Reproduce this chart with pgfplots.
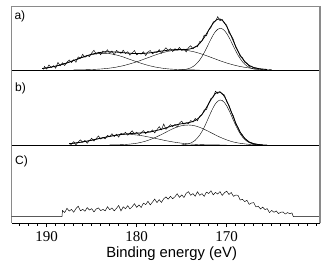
\documentclass[border=0pt]{standalone}
\usepackage{pgfplots}
\pgfplotsset{compat=1.18}
\usepackage{fontspec}
\setmainfont{Liberation Serif}
\newfontfamily\arial{Liberation Sans}
\definecolor{framegray}{HTML}{8A8A8A}
\begin{document}
\begin{tikzpicture}[x=1pt,y=1pt]
\useasboundingbox (0,0) rectangle (332,274);
\pgfplotsset{
 panel/.style={
  scale only axis, width=308.8pt, xmin=159.58, xmax=193.89, x dir=reverse,
  axis x line*=bottom, axis y line*=left,
  x axis line style={black, line width=1pt},
  y axis line style={framegray, line width=0.8pt},
  ytick=\empty, clip=false, anchor=south west,
 },
 dat/.style={black, line width=0.45pt},
 fit/.style={black, line width=0.8pt, smooth},
 comp/.style={black, line width=0.4pt, smooth},
}
% ---------------- panel a
\begin{axis}[panel, at={(11.7pt,204pt)}, height=64pt, ymin=0, ymax=64, xtick=\empty]
\addplot[comp] coordinates {(190.5,1.52)(190,2.12)(189.5,2.91)(189,3.87)(188.5,5.03)(188,6.36)(187.5,7.85)(187,9.47)(186.5,11.1)(186,12.7)(185.5,14.1)(185,15.3)(184.5,16.1)(184,16.6)(183.5,16.7)(183,16.3)(182.5,15.5)(182,14.4)(181.5,13.0)(181,11.4)(180.5,9.8)(180,8.2)(179.5,6.7)(179,5.3)(178.5,4.1)(178,3.1)(177.5,2.3)(177,1.6)(176.5,1.1)(176,0.8)(175,0.3)(174,0.1)(173,0)};
\addplot[comp] coordinates {(187,0.1)(186,0.22)(185,0.5)(184,1.0)(183.5,1.4)(183,1.9)(182.5,2.5)(182,3.4)(181.5,4.3)(181,5.5)(180.5,6.8)(180,8.2)(179.5,9.8)(179,11.5)(178.5,13.1)(178,14.8)(177.5,16.3)(177,17.6)(176.5,18.7)(176,19.5)(175.5,19.9)(175,20.0)(174.5,19.6)(174,18.9)(173.5,17.9)(173,16.6)(172.5,15.1)(172,13.5)(171.5,11.8)(171,10.1)(170.5,8.5)(170,7.0)(169.5,5.7)(169,4.5)(168.5,3.5)(168,2.7)(167.5,2.0)(167,1.5)(166.5,1.1)(166,0.8)(165.5,0.5)(165,0.4)};
\addplot[comp] coordinates {(175,0.3)(174.5,0.8)(174,2.2)(173.5,5.0)(173,10.0)(172.75,13.4)(172.5,17.4)(172.25,21.8)(172,26.4)(171.75,30.9)(171.5,35.1)(171.25,38.5)(171,40.7)(170.75,41.7)(170.5,41.2)(170.25,39.5)(170,36.5)(169.75,32.7)(169.5,28.3)(169.25,23.6)(169,19.1)(168.75,14.9)(168.5,11.3)(168.25,8.3)(168,5.8)(167.75,4.0)(167.5,2.6)(167.25,1.7)(167,1.0)(166.5,0.35)(166,0.1)};
\addplot[fit] coordinates {(190.5,1.5)(190,2.1)(189.5,2.9)(189,3.9)(188.5,5.0)(188,6.4)(187.5,7.9)(187,9.6)(186.5,11.2)(186,12.9)(185.5,14.4)(185,15.8)(184.5,16.8)(184,17.6)(183.5,18.1)(183,18.2)(182.5,18.0)(182,17.8)(181.5,17.3)(181,16.9)(180.5,16.6)(180,16.4)(179.5,16.5)(179,16.8)(178.5,17.2)(178,17.9)(177.5,18.6)(177,19.2)(176.5,19.8)(176,20.3)(175.5,20.4)(175,20.6)(174.5,20.6)(174,21.2)(173.5,22.9)(173.25,24.5)(173,26.6)(172.75,29.3)(172.5,32.5)(172.25,36.1)(172,39.9)(171.75,43.6)(171.5,46.9)(171.25,49.4)(171,50.8)(170.75,51.0)(170.5,49.7)(170.25,47.2)(170,43.5)(169.75,39.0)(169.5,34.0)(169.25,28.7)(169,23.6)(168.75,18.9)(168.5,14.8)(168.25,11.4)(168,8.5)(167.75,6.3)(167.5,4.6)(167.25,3.4)(167,2.5)(166.5,1.45)(166,0.9)(165.5,0.5)};
\addplot[dat] coordinates {(190.35,0.5)(190.25,3.6)(190,0.9)(189.75,5.1)(189.5,2.4)(189.25,4.3)(189,1.8)(188.75,7.6)(188.5,4.2)(188.25,7.2)(188,4.5)(187.75,7.6)(187.5,10.1)(187.25,7.4)(187,10.3)(186.75,7.8)(186.5,13.1)(186.25,11.8)(186,15.7)(185.75,12.6)(185.5,14.6)(185.25,13.4)(185,17.1)(184.75,19.7)(184.5,15.9)(184.25,17.8)(184,15.3)(183.75,19.0)(183.5,17.7)(183.25,20.2)(183,16.6)(182.75,18.9)(182.5,15.2)(182.25,19.6)(182,17.9)(181.75,16.6)(181.5,19.8)(181.25,16.5)(181,18.3)(180.75,14.8)(180.5,17.1)(180.25,19.4)(180,15.1)(179.75,16.8)(179.5,15.8)(179.25,18.3)(179,14.4)(178.75,18.0)(178.5,19.5)(178.25,16.1)(178,17.9)(177.75,17.4)(177.5,20.4)(177.25,16.7)(177,19.8)(176.75,22.2)(176.5,19.6)(176.25,21.3)(176,18.5)(175.75,21.3)(175.5,19.9)(175.25,22.6)(175,19.5)(174.75,21.0)(174.5,18.1)(174.25,22.4)(174,24.2)(173.75,21.2)(173.5,23.6)(173.25,23.1)(173,28.5)(172.75,29.0)(172.5,34.9)(172.25,34.2)(172,40.1)(171.75,42.4)(171.5,48.0)(171.25,48.8)(171,53.4)(170.75,49.3)(170.5,50.5)(170.25,46.8)(170,44.8)(169.75,36.9)(169.5,34.5)(169.25,30.4)(169,22.6)(168.75,19.2)(168.5,13.3)(168.25,12.4)(168,7.8)(167.75,6.9)(167.5,3.7)(167.25,3.8)(167,2.0)(166.75,2.2)(166.5,1.25)(166.25,0.9)(166,0.3)};
\draw[framegray, line width=0.8pt] (rel axis cs:0,1) -- (rel axis cs:1,1);
\draw[framegray, line width=2pt] (rel axis cs:1,0) -- (rel axis cs:1,1);
\end{axis}
% ---------------- panel b
\begin{axis}[panel, at={(11.7pt,129pt)}, height=75pt, ymin=0, ymax=75, xtick=\empty]
\addplot[comp] coordinates {(187.5,1.33)(187,1.8)(186.5,2.4)(186,3.1)(185.5,3.9)(185,4.8)(184.5,5.8)(184,6.8)(183.5,7.7)(183,8.6)(182.5,9.4)(182,10.0)(181.5,10.4)(181,10.5)(180.5,10.4)(180,10.0)(179.5,9.4)(179,8.6)(178.5,7.7)(178,6.8)(177.5,5.8)(177,4.8)(176.5,3.9)(176,3.1)(175.5,2.4)(175,1.8)(174.5,1.33)(174,0.96)(173.5,0.68)(173,0.46)(172.5,0.3)(172,0.2)(171,0.07)(170,0)};
\addplot[comp] coordinates {(183,0.07)(182.5,0.14)(182,0.25)(181.5,0.43)(181,0.72)(180.5,1.16)(180,1.8)(179.5,2.7)(179,3.9)(178.5,5.4)(178,7.3)(177.5,9.4)(177,11.6)(176.5,14.0)(176,16.2)(175.5,18.0)(175,19.3)(174.5,19.9)(174,19.9)(173.5,19.1)(173,17.65)(172.5,15.7)(172,13.5)(171.5,11.2)(171,8.9)(170.5,6.9)(170,5.1)(169.5,3.6)(169,2.5)(168.5,1.7)(168,1.1)(167.5,0.65)(167,0.39)(166.5,0.22)(166,0.12)(165.5,0.06)};
\addplot[comp] coordinates {(175,0.2)(174.5,0.7)(174,2.0)(173.5,4.7)(173,9.9)(172.75,13.5)(172.5,17.7)(172.25,22.6)(172,27.7)(171.75,32.8)(171.5,37.4)(171.25,41.3)(171,43.8)(170.75,45)(170.5,44.5)(170.25,42.4)(170,39.1)(169.75,34.7)(169.5,29.8)(169.25,24.6)(169,19.6)(168.75,15.1)(168.5,11.2)(168.25,8.0)(168,5.6)(167.75,3.7)(167.5,2.4)(167.25,1.5)(167,0.9)(166.5,0.3)(166,0.08)};
\addplot[fit] coordinates {(187.5,1.33)(187,1.8)(186.5,2.4)(186,3.1)(185.5,3.9)(185,4.8)(184.5,5.8)(184,6.8)(183.5,7.7)(183,8.7)(182.5,9.5)(182,10.25)(181.5,10.8)(181,11.2)(180.5,11.6)(180,11.8)(179.5,12.1)(179,12.5)(178.5,13.1)(178,14.1)(177.5,15.2)(177,16.4)(176.5,17.9)(176,19.3)(175.5,20.4)(175,21.3)(174.5,21.9)(174,22.9)(173.5,24.5)(173.25,26.0)(173,28.0)(172.75,30.6)(172.5,33.7)(172.25,37.5)(172,41.4)(171.75,45.3)(171.5,48.7)(171.25,51.5)(171,52.8)(170.75,52.9)(170.5,51.4)(170.25,48.4)(170,44.2)(169.75,39.0)(169.5,33.4)(169.25,27.7)(169,22.1)(168.75,17.2)(168.5,12.9)(168.25,9.4)(168,6.7)(167.75,4.6)(167.5,3.05)(167.25,2.0)(167,1.3)(166.5,0.5)(166,0.2)};
\addplot[dat] coordinates {(187.4,0)(187.25,0.75)(187,3.4)(186.75,0.2)(186.5,3.1)(186.25,5.15)(186,2.7)(185.75,4.6)(185.5,1.7)(185.25,4.65)(185,6.7)(184.75,4.0)(184.5,6.4)(184.25,9.1)(184,5.9)(183.75,7.45)(183.5,6.1)(183.25,9.6)(183,8.2)(182.75,11.3)(182.5,8.4)(182.25,10.7)(182,7.85)(181.75,11.7)(181.5,10.8)(181.25,12.7)(181,9.8)(180.75,11.9)(180.5,14.2)(180.25,11.0)(180,12.8)(179.75,10.15)(179.5,12.5)(179.25,14.4)(179,11.3)(178.75,13.7)(178.5,12.8)(178.25,15.1)(178,12.1)(177.75,15.25)(177.5,18.4)(177.25,15.2)(177,21.0)(176.75,15.65)(176.5,18.1)(176.25,20.4)(176,18.3)(175.75,20.55)(175.5,18.1)(175.25,21.95)(175,23.8)(174.75,20.8)(174.5,22.3)(174.25,21.2)(174,24.5)(173.75,22.9)(173.5,26.5)(173.25,24.3)(173,28.9)(172.75,30.2)(172.5,35.1)(172.25,35.4)(172,41.7)(171.75,46.5)(171.5,47.8)(171.25,53.8)(171,51.5)(170.75,53.4)(170.5,50.8)(170.25,50.1)(170,43.1)(169.75,39.8)(169.5,32.9)(169.25,29.0)(169,21.2)(168.75,17.8)(168.5,12.5)(168.25,10.1)(168,6.2)(167.75,5.0)(167.5,2.75)(167.25,2.3)(167,1.1)(166.75,1.1)(166.5,0.4)};
\draw[framegray, line width=2pt] (rel axis cs:1,0) -- (rel axis cs:1,1);
\end{axis}
% ---------------- panel c
\begin{axis}[panel, at={(11.7pt,51pt)}, height=78pt, ymin=-6.3, ymax=71.7,
  xtick={170,180,190}, xticklabels={170,180,190},
  minor xtick={160,161,...,193},
  tick align=outside, major tick length=4pt, minor tick length=2.5pt,
  tick style={black, line width=0.6pt},
  xticklabel style={font=\fontsize{15}{18}\selectfont, anchor=base, yshift=-14pt},
  xlabel={Binding energy (eV)},
  xlabel style={font=\arial\fontsize{14.8}{17}\selectfont, at={(axis description cs:0.518,0)}, anchor=base, yshift=-34.3pt},
]
\addplot[dat] coordinates {(193.89,0)(188.3,0)(188.25,6.2)(188,4.2)(187.75,8.4)(187.5,5.65)(187.25,7.3)(187,4.5)(186.75,8.1)(186.5,10.55)(186.25,5.8)(186,7.4)(185.75,5.5)(185.5,9.1)(185.25,6.7)(185,8.0)(184.75,4.8)(184.5,7.7)(184.25,8.8)(184,6.1)(183.75,7.3)(183.5,5.85)(183.25,10.0)(183,7.0)(182.75,8.7)(182.5,5.85)(182.25,8.4)(182,11.2)(181.75,5.75)(181.5,9.9)(181.25,7.95)(181,11.0)(180.75,7.8)(180.5,10.05)(180.25,13.0)(180,9.3)(179.75,11.8)(179.5,9.2)(179.25,13.6)(179,12.1)(178.75,15.4)(178.5,11.8)(178.25,14.6)(178,17.6)(177.75,14.1)(177.5,17.05)(177.25,14.3)(177,17.9)(176.75,19.8)(176.5,17.55)(176.25,20.4)(176,18.0)(175.75,20.0)(175.5,22.95)(175.25,19.3)(175,21.8)(174.75,19.25)(174.5,23.4)(174.25,25.05)(174,21.4)(173.75,23.1)(173.5,20.45)(173.25,24.9)(173,21.4)(172.75,23.0)(172.5,20.35)(172.25,24.6)(172,23.2)(171.75,25.9)(171.5,21.85)(171.25,24.3)(171,22.7)(170.75,25.1)(170.5,21.3)(170.25,24.0)(170,25.5)(169.75,22.25)(169.5,24.2)(169.25,20.4)(169,21.6)(168.75,21.4)(168.5,16.7)(168.25,17.3)(168,15.1)(167.75,16.4)(167.5,12.3)(167.25,13.7)(167,14.1)(166.75,9.8)(166.5,10.5)(166.25,7.75)(166,9.6)(165.75,7.1)(165.5,8.1)(165.25,4.1)(165,6.3)(164.75,4.4)(164.5,5.8)(164.25,3.15)(164,4.4)(163.75,4.75)(163.5,2.7)(163.25,4.1)(163,3.0)(162.75,3.8)(162.6,0)(159.58,0)};
\draw[framegray, line width=2pt] (rel axis cs:1,0) -- (rel axis cs:1,1);
\end{axis}
\node[anchor=base west, inner sep=0pt, font=\arial\fontsize{12}{14}\selectfont] at (14.3,254.3) {a)};
\node[anchor=base west, inner sep=0pt, font=\arial\fontsize{12}{14}\selectfont] at (15,182.8) {b)};
\node[anchor=base west, inner sep=0pt, font=\arial\fontsize{12}{14}\selectfont] at (15,109.2) {C)};
\end{tikzpicture}
\end{document}
